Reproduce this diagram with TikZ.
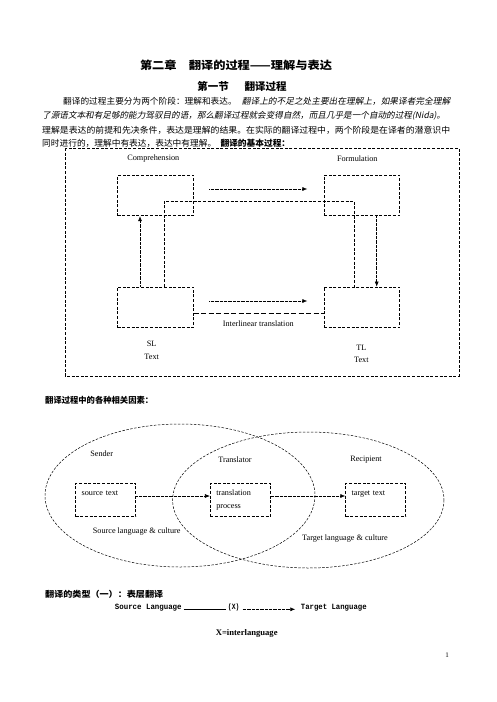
\documentclass[tikz,border=0pt]{standalone}
\usepackage{graphicx}
\usepackage{fontspec}
\setmainfont{Liberation Serif}
\newfontfamily\cjk{Noto Sans CJK SC}
\newfontfamily\cjkit[FakeSlant=0.2]{Noto Sans CJK SC}
\newfontfamily\typew{Liberation Mono}
\usetikzlibrary{arrows.meta}
\newcommand{\fitto}[2]{\resizebox{#1}{\height}{#2}}
\newcommand{\bodyfont}{\cjk\fontsize{8.5}{10}\selectfont}

\begin{document}
\begin{tikzpicture}[x=1pt,y=-1pt,>=Stealth,
  every node/.style={inner sep=0pt,font=\fontsize{8.2}{9}\selectfont},
  frame/.style={line width=0.7pt,dash pattern=on 3pt off 1.6pt},
  stage/.style={frame,draw,minimum width=75.6pt,minimum height=40.6pt},
  agent/.style={frame,draw,minimum height=33.4pt,text width=48pt,inner xsep=6pt,
    align=left,font=\fontsize{8.2}{13.7}\selectfont},
  flow/.style={line width=0.6pt,dash pattern=on 0.7pt off 0.6pt,-{Latex[length=5pt,width=4pt]}},
  interlin/.style={line width=0.7pt,dash pattern=on 5pt off 2.5pt},
  ring/.style={line width=0.5pt,dash pattern=on 2.5pt off 1.5pt},
  mono/.style={font=\typew\bfseries\fontsize{8}{9}\selectfont}]
  \useasboundingbox (0,0) rectangle (496,702);

  % headings and paragraph
  \node (title) at (236,65) {\cjk\bfseries\fontsize{11}{12}\selectfont
        \fitto{192pt}{第二章\hspace{1em}翻译的过程——理解与表达}};
  \node (section) at (242,86) {\cjk\bfseries\fontsize{10.5}{11}\selectfont 第一节\hspace{1.5em}翻译过程};
  \node[anchor=west] (line1) at (63,101.7) {\bodyfont\fitto{387pt}{翻译的过程主要分为两个阶段：理解和表达。\hspace{0.6em}{\cjkit 翻译上的不足之处主要出在理解上，如果译者完全理解}}};
  \node[anchor=west] (line2) at (42,115.7) {\bodyfont\fitto{403pt}{\cjkit 了源语文本和有足够的能力驾驭目的语，那么翻译过程就会变得自然，而且几乎是一个自动的过程(Nida)。}};
  \node[anchor=west] (line3) at (42,130) {\bodyfont\fitto{408pt}{理解是表达的前提和先决条件，表达是理解的结果。在实际的翻译过程中，两个阶段是在译者的潜意识中}};
  \node[anchor=west] (line4) at (42,143) {\bodyfont\fitto{248pt}{同时进行的，理解中有表达，表达中有理解。\hspace{0.5em}{\bfseries 翻译的基本过程：}}};

  % basic process
  \draw[frame] (65,148) rectangle (459,376);
  \node (complabel) at (153.3,158.3) {Comprehension};
  \node (formlabel) at (357.3,158.3) {Formulation};
  \node[stage] (comp) at (155.5,195.5) {};
  \node[stage] (form) at (361.7,195.5) {};
  \node[stage] (sltext) at (155.5,307.3) {};
  \node[stage] (tltext) at (361.7,307.3) {};
  \draw[flow,shorten <=15.7pt,shorten >=16.2pt] ([yshift=6.5pt]comp.east) -- ([yshift=6.5pt]form.west);
  \draw[flow,shorten <=15.7pt,shorten >=16.2pt] ([yshift=6.3pt]sltext.east) -- ([yshift=6.3pt]tltext.west);
  \draw[flow] ([xshift=-15.5pt]sltext.north) -- ([xshift=-15.5pt]comp.south);
  \draw[flow] ([xshift=15pt]form.south) -- ([xshift=15pt]tltext.north);
  \draw[frame] ([xshift=8.5pt]sltext.north) -- ++(0,-85.3) -| ([xshift=-7.4pt]tltext.north);
  \draw[interlin] ([yshift=-6pt]sltext.east) -- ([yshift=-6pt]tltext.west);
  \node (interlabel) at (258.3,323.3) {Interlinear translation};
  \node[align=center,font=\fontsize{8.2}{12.6}\selectfont] (slnote) at (151.7,350.3) {SL\\Text};
  \node[align=center,font=\fontsize{8.2}{12.3}\selectfont] (tlnote) at (361.3,353.9) {TL\\Text};

  % factors
  \node[anchor=west] (factors) at (45,400.7) {\cjk\bfseries\fontsize{8.4}{9}\selectfont\fitto{108pt}{翻译过程中的各种相关因素：}};
  \draw[ring] (180,495.5) ellipse [x radius=135,y radius=71.5];
  \draw[ring] (308.3,500) ellipse [x radius=135.7,y radius=68];
  \node (sender) at (101.7,454) {Sender};
  \node (translator) at (235,460) {Translator};
  \node (recipient) at (366,460) {Recipient};
  \node[agent] (srctext) at (105.7,500) {source text\\\mbox{}};
  \node[agent] (proc) at (240.3,500) {translation\\process};
  \node[agent] (tgttext) at (375.7,500) {target text\\\mbox{}};
  \draw[flow] ([yshift=4pt]srctext.east) -- ([yshift=4pt]proc.west);
  \draw[flow] ([yshift=4pt]proc.east) -- ([yshift=4pt]tgttext.west);
  \node (srcculture) at (136.7,531.7) {Source language \& culture};
  \node (tgtculture) at (345,538.3) {Target language \& culture};

  % types
  \node[anchor=west] (types) at (45,594) {\cjk\bfseries\fontsize{8.4}{9}\selectfont\fitto{118pt}{翻译的类型（一）：表层翻译}};
  \node[mono] (srclang) at (148.3,607.3) {\fitto{66.7pt}{Source Language}};
  \node[mono] (xlang) at (233.7,607.3) {\fitto{11.5pt}{(X)}};
  \node[mono] (tgtlang) at (333.8,607.3) {\fitto{65.7pt}{Target Language}};
  \draw[line width=0.4pt,shorten <=1.7pt,shorten >=2pt] ([yshift=-2pt]srclang.east) -- ([yshift=-2pt]xlang.west);
  \draw[flow,shorten <=3pt,shorten >=5.5pt] ([yshift=-2pt]xlang.east) -- ([yshift=-2pt]tgtlang.west);
  \node[font=\bfseries\fontsize{8.6}{9}\selectfont] (xdef) at (246.7,633.3) {X=interlanguage};
  \node[font=\fontsize{7}{8}\selectfont] (pagenum) at (447,655) {1};
\end{tikzpicture}
\end{document}
